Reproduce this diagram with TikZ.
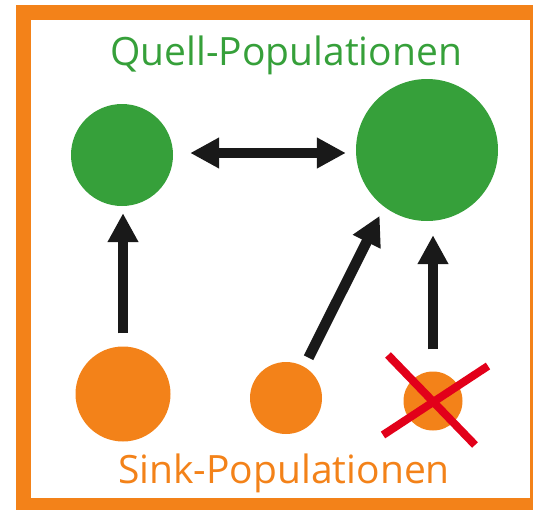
\documentclass[tikz,border=0pt]{standalone}
\usepackage{fontspec}
\setmainfont{Open Sans}
\usetikzlibrary{arrows.meta}
\usetikzlibrary{positioning}
\usetikzlibrary{calc}

\definecolor{quellgreen}{RGB}{54,160,58}
\definecolor{sinkorange}{RGB}{243,130,25}
\definecolor{crossred}{RGB}{226,0,26}

\begin{document}
\begin{tikzpicture}[
    x=1pt, y=-1pt,
% population styles
    quell/.style={circle,fill=quellgreen,inner sep=0pt},
    sink/.style={circle,fill=sinkorange,inner sep=0pt},
    link/.style={line width=10.5pt,draw=black!90,-{Triangle[length=29pt,width=29pt]}},
    title/.style={anchor=base,font={\fontsize{39pt}{46}\selectfont}}
    ]

  \tikzstyle{frame} = [draw=sinkorange,line width=15pt]

  \useasboundingbox (0,0) rectangle (533,509);
  \draw[frame] (23.5,12.5) rectangle (537.5,505.5);

  \node (qtitle) [title,text=quellgreen] at (286,65) {Quell-Populationen};
  \node (stitle) [title,text=sinkorange] at (284,483) {Sink-Populationen};

  \node (quellA) [quell,minimum size=102pt] at (122,155) {};
  \node (quellB) [quell,minimum size=142pt] at (427,150) {};
  \node (sinkA) [sink,minimum size=95pt] at (123,394) {};
  \node (sinkB) [sink,minimum size=72pt] at (286,398) {};
  \node (sinkC) [sink,minimum size=59pt] at (433,401) {};

  \draw[link,{Triangle[length=29pt,width=29pt]}-{Triangle[length=29pt,width=29pt]},shorten <=17pt,shorten >=10pt]
    ([yshift=2pt]quellA.east) -- ([yshift=2pt]quellA.east -| quellB.west);
  \draw[link,shorten <=13pt,shorten >=7pt] (sinkA.north) -- (sinkA.north |- quellA.south);
  \draw[link,shorten <=10pt,shorten >=10pt] (sinkB.60) -- (quellB.233);
  \draw[link,shorten <=22pt,shorten >=14pt] (sinkC.north) -- (sinkC.north |- quellB.south);

  % lost sink
  \draw[crossred,line width=8pt] ($(sinkC)+(-45,-46)$) -- ($(sinkC)+(42,44)$);
  \draw[crossred,line width=8pt] ($(sinkC)+(-50,34)$) -- ($(sinkC)+(55,-35)$);

\end{tikzpicture}
\end{document}
